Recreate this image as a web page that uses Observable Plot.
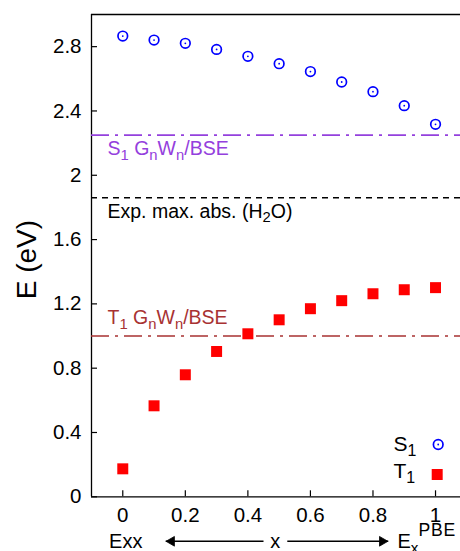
<!DOCTYPE html>
<html><head><meta charset="utf-8">
<script src="https://cdn.jsdelivr.net/npm/d3@7"></script>
<script src="https://cdn.jsdelivr.net/npm/@observablehq/plot@0.6"></script>
<style>
body{margin:0;background:#fff}
svg{font-family:"Liberation Sans",Arial,Helvetica,sans-serif}
</style>
</head><body><div id="chart"></div><script>
// ---- data ----
const xValues = [0, 0.1, 0.2, 0.3, 0.4, 0.5, 0.6, 0.7, 0.8, 0.9, 1.0];
const s1Values = [2.866, 2.841, 2.821, 2.783, 2.740, 2.694, 2.645, 2.580, 2.520, 2.433, 2.317];
const t1Values = [0.174, 0.566, 0.759, 0.904, 1.014, 1.101, 1.170, 1.220, 1.263, 1.288, 1.301];
const xTicks = [0, 0.2, 0.4, 0.6, 0.8, 1];
const xTickLabels = ["0", "0.2", "0.4", "0.6", "0.8", "1"];
const yTicks = [0, 0.4, 0.8, 1.2, 1.6, 2, 2.4, 2.8];
const yTickLabels = ["0", "0.4", "0.8", "1.2", "1.6", "2", "2.4", "2.8"];
const refNames = ["S_{1} G_{n}W_{n}/BSE", "Exp. max. abs. (H_{2}O)", "T_{1} G_{n}W_{n}/BSE"];
const refValues = [2.25, 1.86, 1.00];
const seriesNames = ["S_{1}", "T_{1}"];
const yLabel = "E (eV)";
const xEndLabels = ["Exx", "x", "E_{x}^{PBE}"];
const xEndPositions = [0, 0.5, 1];
const arrowSpans = [{from: 0.45, tip: 0.137}, {from: 0.526, tip: 0.849}];

const s1 = xValues.map((x, i) => ({x, y: s1Values[i]}));
const t1 = xValues.map((x, i) => ({x, y: t1Values[i]}));
const refs = refNames.map((name, i) => ({name, y: refValues[i]}));

const purple = "#9440dd", brown = "#a83232";
const dashDot = "18,6,3,6";

const lineMark = (i, color, dash) => Plot.ruleY([refs[i]], {y: "y", stroke: color, strokeWidth: 1.6, strokeDasharray: dash});
const lineLabel = (i, color, dy) => Plot.text([refs[i]], {x: () => -0.1, y: "y", text: "name", dx: 16, dy, textAnchor: "start", lineAnchor: "bottom", fill: color, fontSize: 19.5});

const chart = Plot.plot({
  width: 460,
  height: 551,
  marginLeft: 91,
  marginRight: 0,
  marginTop: 14,
  marginBottom: 54.7,
  style: {fontSize: "20px", fontFamily: "'Liberation Sans', Arial, sans-serif", background: "white", overflow: "visible"},
  x: {domain: [-0.1, 1.1], range: [91, 466.3], axis: null},
  y: {domain: [0, 3], range: [496.3, 14], axis: null},
  marks: [
    // frame
    Plot.ruleY([0, 3], {stroke: "black", strokeWidth: 1.3}),
    Plot.ruleX([-0.1], {stroke: "black", strokeWidth: 1.3}),
    // axes
    Plot.axisY(yTicks, {anchor: "left", tickSize: -6, tickPadding: 16, fontSize: 20.5, stroke: "black", strokeWidth: 1.2,
      tickFormat: d => yTickLabels[yTicks.indexOf(d)], label: null}),
    Plot.axisX(xTicks, {anchor: "bottom", tickSize: -6, tickPadding: 17, fontSize: 20.5, stroke: "black", strokeWidth: 1.2,
      tickFormat: d => xTickLabels[xTicks.indexOf(d)], label: null}),
    // reference lines
    lineMark(0, purple, dashDot),
    lineMark(1, "black", "6,5"),
    lineMark(2, brown, dashDot),
    lineLabel(0, purple, 20),
    lineLabel(1, "black", 20),
    lineLabel(2, brown, -12),
    // series
    Plot.dot(s1, {x: "x", y: "y", r: 4.8, stroke: "#0000ff", strokeWidth: 1.7, fill: "none"}),
    Plot.dot(s1, {x: "x", y: "y", r: 0.9, fill: "#0000ff"}),
    Plot.dot(t1, {x: "x", y: "y", symbol: "square", r: 6.2, fill: "#ff0000"}),
    // legend
    Plot.text([seriesNames[0]], {text: d => d, frameAnchor: "bottom-right", dx: -67, dy: -46.3, textAnchor: "start", lineAnchor: "bottom", fontSize: 21}),
    Plot.text([seriesNames[1]], {text: d => d, frameAnchor: "bottom-right", dx: -67, dy: -19.3, textAnchor: "start", lineAnchor: "bottom", fontSize: 21}),
    Plot.dot([seriesNames[0]], {frameAnchor: "bottom-right", dx: -22.3, dy: -52.3, r: 4.8, stroke: "#0000ff", strokeWidth: 1.7, fill: "none"}),
    Plot.dot([seriesNames[0]], {frameAnchor: "bottom-right", dx: -22.3, dy: -52.3, r: 0.9, fill: "#0000ff"}),
    Plot.dot([seriesNames[1]], {frameAnchor: "bottom-right", dx: -23.3, dy: -22.3, symbol: "square", r: 6.2, fill: "#ff0000"}),
    // y label
    Plot.text([yLabel], {text: d => d, frameAnchor: "left", dx: -64, dy: 4, rotate: -90, fontSize: 28, textAnchor: "middle", lineAnchor: "middle"}),
    // x end labels and arrows
    Plot.text([0], {x: () => xEndPositions[0], y: () => 0, text: () => xEndLabels[0], dx: 3, dy: 51, textAnchor: "middle", lineAnchor: "bottom", fontSize: 20}),
    Plot.text([0], {x: () => xEndPositions[1], y: () => 0, text: () => xEndLabels[1], dx: -4, dy: 51, textAnchor: "middle", lineAnchor: "bottom", fontSize: 20}),
    Plot.text([0], {x: () => xEndPositions[2], y: () => 0, text: () => xEndLabels[2], dx: -38, dy: 51.5, textAnchor: "start", lineAnchor: "bottom", fontSize: 20}),
    Plot.link(arrowSpans, {x1: "from", x2: "tip", y1: () => 0, y2: () => 0, dy: 44.5, stroke: "black", strokeWidth: 1.6}),
    Plot.dot([arrowSpans[0]], {x: "tip", y: () => 0, dx: 6, dy: 44.5, symbol: "triangle", r: 3.6, rotate: -90, fill: "black", stroke: "black", strokeWidth: 0.8}),
    Plot.dot([arrowSpans[1]], {x: "tip", y: () => 0, dx: -6, dy: 44.5, symbol: "triangle", r: 3.6, rotate: 90, fill: "black", stroke: "black", strokeWidth: 0.8})
  ]
});

document.getElementById("chart").appendChild(chart);

// rich text: _{sub} and ^{sup}
function richify(svg) {
  svg.querySelectorAll("text").forEach(el => {
    const s = el.textContent;
    if (!/[_^]\{/.test(s)) return;
    const base = parseFloat(getComputedStyle(el).fontSize) || 20;
    const parts = [];
    const re = /([_^])\{([^}]*)\}|([^_^]+)/g;
    let m;
    while ((m = re.exec(s))) {
      if (m[3] !== undefined) parts.push({t: m[3], k: "n"});
      else parts.push({t: m[2], k: m[1] === "_" ? "sub" : "sup"});
    }
    while (el.firstChild) el.removeChild(el.firstChild);
    let cur = 0;
    parts.forEach(p => {
      const ts = document.createElementNS("http://www.w3.org/2000/svg", "tspan");
      let target = 0, size = base;
      if (p.k === "sub") { target = base * 0.24; size = base * 0.76; }
      if (p.k === "sup") { target = -base * 0.6; size = base * 0.88; ts.setAttribute("letter-spacing", "0.8"); }
      if (target - cur !== 0) ts.setAttribute("dy", (target - cur).toFixed(2));
      ts.setAttribute("font-size", size.toFixed(2));
      ts.textContent = p.t;
      cur = target;
      el.appendChild(ts);
    });
  });
}
richify(chart);
</script></body></html>
